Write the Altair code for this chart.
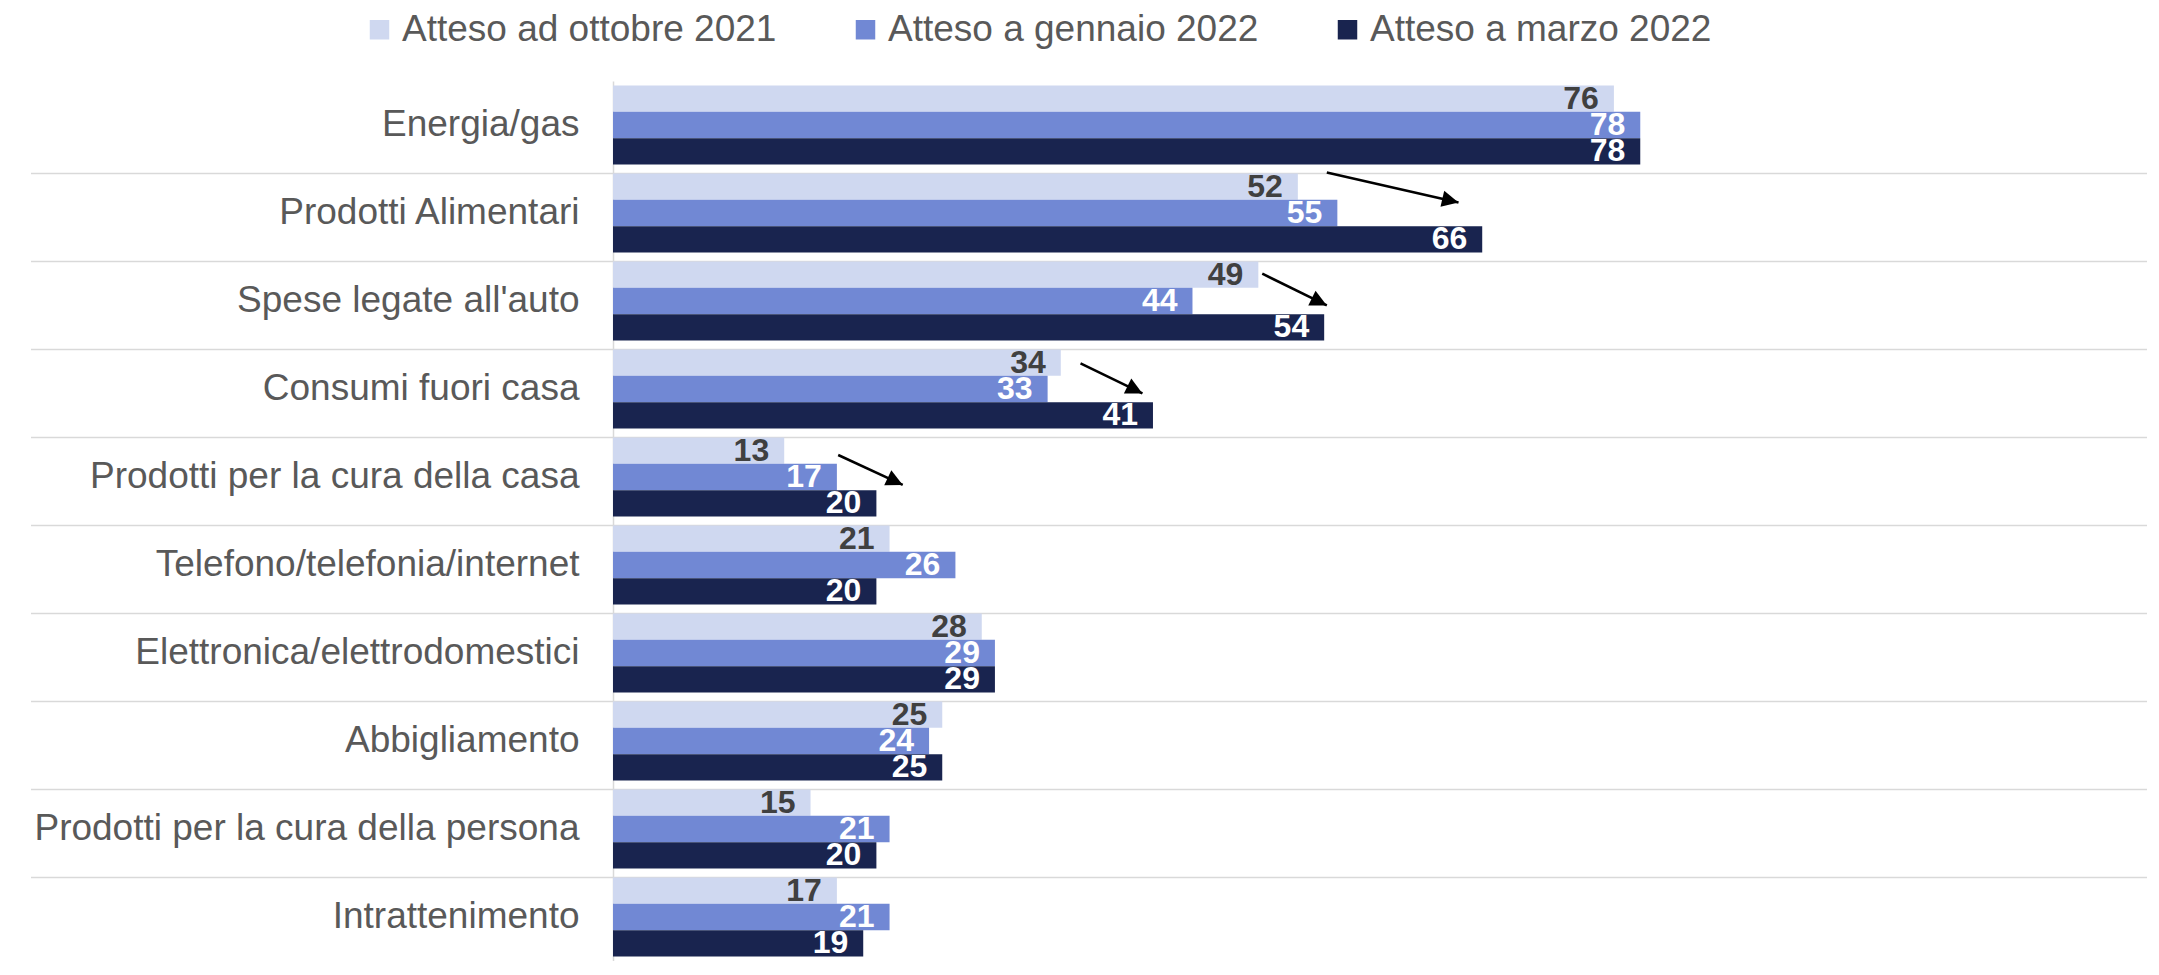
import altair as alt
import pandas as pd

categories = ["Energia/gas", "Prodotti Alimentari", "Spese legate all'auto",
              "Consumi fuori casa", "Prodotti per la cura della casa",
              "Telefono/telefonia/internet", "Elettronica/elettrodomestici",
              "Abbigliamento", "Prodotti per la cura della persona", "Intrattenimento"]
series = ["Atteso ad ottobre 2021", "Atteso a gennaio 2022", "Atteso a marzo 2022"]
ottobre_2021 = [76, 52, 49, 34, 13, 21, 28, 25, 15, 17]
gennaio_2022 = [78, 55, 44, 33, 17, 26, 29, 24, 21, 21]
marzo_2022 = [78, 66, 54, 41, 20, 20, 29, 25, 20, 19]
colors = ["#CFD8F0", "#7188D4", "#19244F"]

# annotation arrows (x in value units, y in category-band units)
arrow_x0 = [54.2, 49.3, 35.5, 17.1]
arrow_x1 = [64.2, 54.2, 40.2, 22.0]
arrow_y0 = [1.04, 2.19, 3.21, 4.25]
arrow_y1 = [1.38, 2.55, 3.55, 4.59]
arrow_angle = [13, 26, 26.5, 25.5]

FONT = "Liberation Sans"

rows = []
for vals, s in zip([ottobre_2021, gennaio_2022, marzo_2022], series):
    for c, v in zip(categories, vals):
        rows.append({"cat": c, "serie": s, "val": v})
df = pd.DataFrame(rows)
seps = pd.DataFrame({"cat": categories[1:]})
arrows = pd.DataFrame({"x0": arrow_x0, "x1": arrow_x1, "y0": arrow_y0,
                       "y1": arrow_y1, "ang": arrow_angle})

yscale = alt.Scale(domain=categories, paddingInner=0.1, paddingOuter=0.05)
xscale = alt.Scale(domain=[0, 100], nice=False, zero=True)

y_enc = alt.Y("cat:N", scale=yscale, sort=categories, title=None,
              axis=alt.Axis(labelFont=FONT, labelFontSize=37, labelColor="#595959",
                            labelPadding=34, ticks=False, labelLimit=1000,
                            domainColor="#D9D9D9", domainWidth=1.5, grid=False))
yoff = alt.YOffset("serie:N", sort=series,
                   scale=alt.Scale(domain=series, paddingInner=0, paddingOuter=0))
x_enc = alt.X("val:Q", scale=xscale, axis=None, title=None)

sep_layer = alt.Chart(seps).mark_rule(color="#D9D9D9", strokeWidth=1.5).encode(
    y=alt.Y("cat:N", scale=yscale, sort=categories, bandPosition=0),
    x=alt.value(-582), x2=alt.value(1534))

bars = alt.Chart(df).mark_bar().encode(
    y=y_enc, yOffset=yoff, x=x_enc,
    color=alt.Color("serie:N", scale=alt.Scale(domain=series, range=colors),
                    legend=alt.Legend(orient="none", legendX=-252, legendY=-70,
                                      direction="horizontal", title=None,
                                      symbolType="square", symbolSize=380,
                                      symbolStrokeWidth=0, labelFont=FONT,
                                      labelFontSize=37, labelColor="#595959",
                                      columnPadding=70, labelOffset=4,
                                      labelLimit=1000, padding=0)))

labels = alt.Chart(df).mark_text(align="right", baseline="middle", dx=-15,
                                 font=FONT, fontSize=32, fontWeight="bold").encode(
    y=alt.Y("cat:N", scale=yscale, sort=categories),
    yOffset=yoff, x=x_enc, text="val:Q",
    color=alt.condition(alt.datum.serie == series[0], alt.value("#404040"),
                        alt.value("white")))

inner = alt.layer(sep_layer, bars, labels)

ay = alt.Scale(domain=[0, 10], reverse=True, nice=False, zero=False)
arrow_line = alt.Chart(arrows).mark_rule(color="black", strokeWidth=2.5).encode(
    x=alt.X("x0:Q", scale=xscale, axis=None), x2="x1:Q",
    y=alt.Y("y0:Q", scale=ay, axis=None), y2="y1:Q")
arrow_head = alt.Chart(arrows).mark_point(
    shape="M0,0L-1,-0.5L-1,0.5Z", filled=True, color="black", size=1100, opacity=1,
    strokeWidth=0).encode(
    x=alt.X("x1:Q", scale=xscale, axis=None),
    y=alt.Y("y1:Q", scale=ay, axis=None),
    angle=alt.Angle("ang:Q", scale=None))
arrow_layer = alt.layer(arrow_line, arrow_head)

chart = alt.layer(inner, arrow_layer).resolve_scale(y="independent").properties(
    width=1317, height=880,
    padding={"left": 22, "top": 3, "right": 2, "bottom": 0}
).configure_view(strokeWidth=0)

chart.save("out.html", embed_options={"renderer": "svg", "actions": False})
